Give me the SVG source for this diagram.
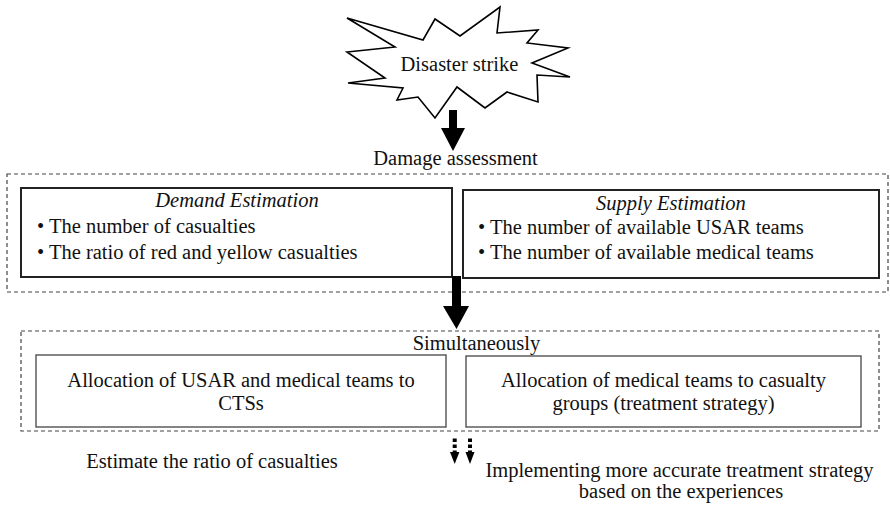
<svg xmlns="http://www.w3.org/2000/svg" width="890" height="506" viewBox="0 0 890 506">
<style>
.t{font-family:'Liberation Serif','Times New Roman',Times,serif;font-size:20.5px;fill:#111}
.c{text-anchor:middle}
.it{font-style:italic}
.dash{fill:none;stroke:#444;stroke-width:1.2;stroke-dasharray:4 3}
.bold{fill:#fff;stroke:#222;stroke-width:2}
.thin{fill:#fff;stroke:#444;stroke-width:1.3}
.arr{fill:#000}
</style>
<rect width="890" height="506" fill="#fff"/>
<g id="disaster">
<polygon points="347,18 423,40 435,19 460,36 500,7 497,33 538,30 527,43 568,48 532,63 570,77 537,75 538,102 507,92 485,108 457,87 435,118 418,97 397,100 403,88 348,83 385,78 347,52 395,47" fill="#fff" stroke="#000" stroke-width="1.6" stroke-linejoin="miter"/>
<text class="t c" x="459.5" y="71">Disaster strike</text>
</g>
<g id="damage-assessment">
<text class="t c" x="455.5" y="165">Damage assessment</text>
<rect class="dash" x="7" y="174" width="881" height="118"/>
</g>
<g id="demand">
<rect class="bold" x="21" y="188" width="431" height="89"/>
<text class="t c it" x="237" y="207">Demand Estimation</text>
<text class="t" x="37" y="233">• The number of casualties</text>
<text class="t" x="37" y="259">• The ratio of red and yellow casualties</text>
</g>
<g id="supply">
<rect class="bold" x="463" y="190" width="416" height="88"/>
<text class="t c it" x="671" y="210">Supply Estimation</text>
<text class="t" x="478" y="234">• The number of available USAR teams</text>
<text class="t" x="478" y="259">• The number of available medical teams</text>
</g>
<g id="simultaneously">
<rect class="dash" x="21" y="331" width="858" height="100"/>
<text class="t c" x="476.5" y="350">Simultaneously</text>
</g>
<g id="alloc-cts">
<rect class="thin" x="36" y="355" width="410" height="72"/>
<text class="t c" x="241" y="387">Allocation of USAR and medical teams to</text>
<text class="t c" x="241" y="410">CTSs</text>
</g>
<g id="alloc-groups">
<rect class="thin" x="466" y="356" width="395" height="71"/>
<text class="t c" x="663.5" y="387">Allocation of medical teams to casualty</text>
<text class="t c" x="663.5" y="410">groups (treatment strategy)</text>
</g>
<g id="estimate">
<text class="t c" x="212" y="468">Estimate the ratio of casualties</text>
</g>
<g id="implementing">
<text class="t c" x="679.5" y="477">Implementing more accurate treatment strategy</text>
<text class="t c" x="681" y="498">based on the experiences</text>
</g>
<g id="connectors">
<polygon class="arr" points="449,110 457,110 457,128 465,128 453,151 441,128 449,128"/>
<polygon class="arr" points="452,276 461,276 461,306 469,306 456.5,329 443,306 452,306"/>
<line x1="454.7" y1="438.5" x2="454.7" y2="452" stroke="#000" stroke-width="4" stroke-dasharray="3.5 2.5"/>
<polygon class="arr" points="450,452 459.4,452 454.7,464"/>
<line x1="470" y1="438.5" x2="470" y2="452" stroke="#000" stroke-width="4" stroke-dasharray="3.5 2.5"/>
<polygon class="arr" points="465.5,452 474.5,452 470,464"/>
</g>
</svg>
